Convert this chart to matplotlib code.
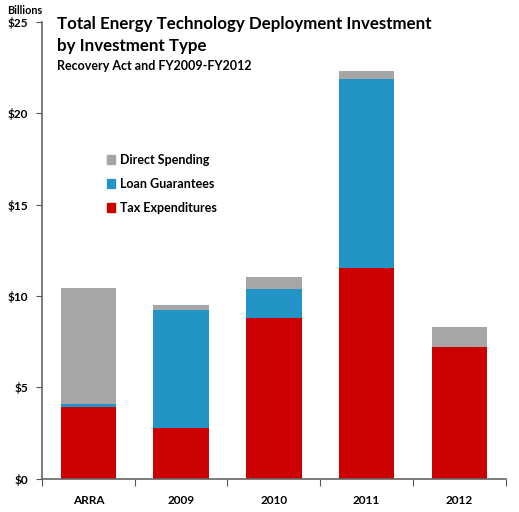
import matplotlib
matplotlib.use("Agg")
import matplotlib.pyplot as plt
from matplotlib.patches import Patch

categories = ["ARRA", "2009", "2010", "2011", "2012"]
tax = [3.93, 2.78, 8.80, 11.54, 7.21]
loan = [0.16, 6.46, 1.57, 10.34, 0.0]
direct = [6.34, 0.27, 0.66, 0.42, 1.10]
yticks = [0, 5, 10, 15, 20, 25]
ytick_labels = ["$0", "$5", "$10", "$15", "$20", "$25"]

c_tax = "#CC0000"
c_loan = "#2394C6"
c_direct = "#A6A6A6"

plt.rcParams['font.family'] = ['Lato', 'DejaVu Sans']
plt.rcParams['font.weight'] = 'bold'

fig = plt.figure(figsize=(5.19, 5.12), dpi=100)
ax = fig.add_axes([0.0809, 0.065, 0.8935, 0.8924])

x = list(range(len(categories)))
b1 = [t for t in tax]
b2 = [t + l for t, l in zip(tax, loan)]
ax.bar(x, tax, width=0.6, color=c_tax, label="Tax Expenditures")
ax.bar(x, loan, width=0.6, bottom=b1, color=c_loan, label="Loan Guarantees")
ax.bar(x, direct, width=0.6, bottom=b2, color=c_direct, label="Direct Spending")

ax.set_xlim(-0.5, len(categories) - 0.5)
ax.set_ylim(0, 25)
ax.set_yticks(yticks)
ax.set_yticklabels(ytick_labels, fontsize=8.5, fontweight='bold')
ax.set_xticks([i - 0.5 for i in range(len(categories) + 1)])
ax.set_xticklabels([])
ax.set_xticks(x, minor=True)
ax.set_xticklabels(categories, minor=True, fontsize=8.5, fontweight='bold')
ax.tick_params(axis='x', which='minor', length=0, pad=12)
ax.tick_params(axis='x', which='major', length=5, direction='out', color='#555555')
ax.tick_params(axis='y', length=4, direction='out', color='#555555', pad=6)
for s in ['top', 'right']:
    ax.spines[s].set_visible(False)
for s in ['left', 'bottom']:
    ax.spines[s].set_color('#666666')
    ax.spines[s].set_linewidth(1.2)

handles = [Patch(color=c_direct, label="Direct Spending"),
           Patch(color=c_loan, label="Loan Guarantees"),
           Patch(color=c_tax, label="Tax Expenditures")]
leg = ax.legend(handles=handles, loc='upper left', bbox_to_anchor=(0.115, 0.735),
                frameon=False, handlelength=0.7, handleheight=0.7,
                handletextpad=0.4, labelspacing=0.95, prop={'weight': 'bold', 'size': 9})

fig.text(57/519, 1 - 24/512, "Total Energy Technology Deployment Investment",
         fontsize=12.2, fontweight='bold', va='center', ha='left')
fig.text(57/519, 1 - 46/512, "by Investment Type",
         fontsize=12.2, fontweight='bold', va='center', ha='left')
fig.text(57/519, 1 - 66/512, "Recovery Act and FY2009-FY2012",
         fontsize=9, fontweight='bold', va='center', ha='left')
fig.text(25/519, 1 - 10/512, "Billions", fontsize=7.8, fontweight='bold',
         va='center', ha='center')

fig.savefig("out.png", dpi=100)
